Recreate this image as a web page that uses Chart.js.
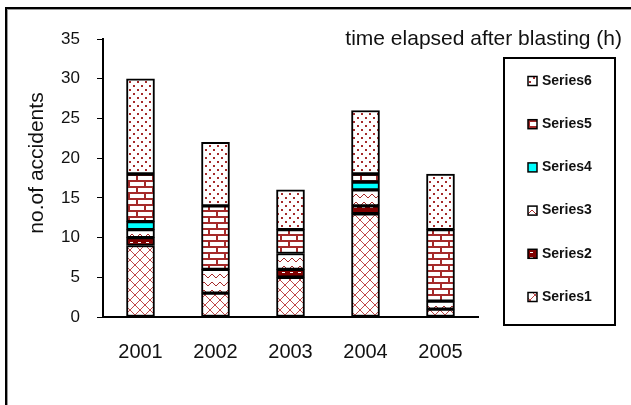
<!DOCTYPE html>
<html>
<head>
<meta charset="utf-8">
<script src="https://cdn.jsdelivr.net/npm/chart.js@4"></script>
<style>
  html, body { margin: 0; padding: 0; background: #fff; }
  #wrap { width: 631px; height: 405px; }
</style>
</head>
<body>
<div id="wrap"><canvas id="myChart" width="631" height="405"></canvas></div>
<script>
// data //
const years = ['2001', '2002', '2003', '2004', '2005'];
const series1 = [9, 3, 5, 13, 1];
const series2 = [1, 0, 1, 1, 0];
const series3 = [1, 3, 2, 2, 1];
const series4 = [1, 0, 0, 1, 0];
const series5 = [6, 8, 3, 1, 9];
const series6 = [12, 8, 5, 8, 7];
const yTicks = [0, 5, 10, 15, 20, 25, 30, 35];

const titleText = 'time elapsed after blasting (h)';
const yTitle = 'no.of accidents';

// patterns //
const red = '#a52a2a';

function makePattern(w, h, draw) {
    const c = document.createElement('canvas');
    c.width = w;
    c.height = h;
    const g = c.getContext('2d');
    g.fillStyle = '#fff';
    g.fillRect(0, 0, w, h);
    draw(g);
    return g.createPattern(c, 'repeat');
}

const pCross = makePattern(10, 10, g => {
    g.strokeStyle = '#c04848';
    g.lineWidth = 1;
    g.beginPath();
    g.moveTo(0, 0); g.lineTo(10, 10);
    g.moveTo(10, 0); g.lineTo(0, 10);
    g.stroke();
});

const pDark = makePattern(8, 5, g => {
    g.fillStyle = '#800000';
    g.fillRect(0, 0, 8, 5);
    g.fillStyle = '#fff';
    g.fillRect(2, 2, 3, 1);
});

const pZig = makePattern(8, 8, g => {
    g.strokeStyle = red;
    g.lineWidth = 1;
    g.beginPath();
    g.moveTo(0, 6); g.lineTo(4, 2); g.lineTo(8, 6);
    g.stroke();
});

const pBrick = makePattern(16, 12, g => {
    g.fillStyle = red;
    g.fillRect(0, 0, 16, 2);
    g.fillRect(0, 6, 16, 2);
    g.fillRect(0, 0, 2, 6);
    g.fillRect(8, 6, 2, 6);
});

const pDots = makePattern(8, 8, g => {
    g.fillStyle = red;
    g.fillRect(1, 1, 2, 2);
    g.fillRect(5, 5, 2, 2);
});

const datasets = [
    { label: 'Series1', data: series1, backgroundColor: pCross },
    { label: 'Series2', data: series2, backgroundColor: pDark },
    { label: 'Series3', data: series3, backgroundColor: pZig },
    { label: 'Series4', data: series4, backgroundColor: '#00ffff' },
    { label: 'Series5', data: series5, backgroundColor: pBrick },
    { label: 'Series6', data: series6, backgroundColor: pDots }
].map(d => Object.assign(d, {
    borderColor: '#000',
    borderWidth: 2,
    borderSkipped: false,
    barThickness: 28
}));

// frame, titles and legend box //
const extras = {
    id: 'extras',
    afterDraw(chart) {
        const c = chart.ctx;
        c.save();

        // outer frame (left + top only are visible)
        c.fillStyle = '#000';
        c.fillRect(5, 7, 2, 398);
        c.fillRect(5, 7, 626, 2);
        c.fillStyle = '#999';
        c.fillRect(7, 9, 1, 396);
        c.fillRect(7, 9, 624, 1);

        c.fillStyle = '#111';
        c.font = '21px "Liberation Sans"';
        c.textAlign = 'right';
        c.textBaseline = 'middle';
        c.fillText(titleText, 622, 39);

        c.save();
        c.translate(37, 163);
        c.rotate(-Math.PI / 2);
        c.textAlign = 'center';
        c.font = '21px "Liberation Sans"';
        c.fillText(yTitle, 0, 0);
        c.restore();

        // legend
        c.strokeStyle = '#000';
        c.lineWidth = 2;
        c.strokeRect(504, 58, 111, 267);

        c.font = 'bold 14px "Liberation Sans"';
        c.textAlign = 'left';
        const items = chart.data.datasets.slice().reverse();
        items.forEach((ds, i) => {
            const y = 81 + i * 43.2;
            c.fillStyle = ds.backgroundColor;
            c.fillRect(528, y - 4.5, 9, 9);
            c.lineWidth = 1.5;
            c.strokeRect(528, y - 4.5, 9, 9);
            c.fillStyle = '#111';
            c.fillText(ds.label, 542, y);
        });

        c.restore();
    }
};

const ctx = document.getElementById('myChart');

new Chart(ctx, {
    type: 'bar',
    data: {
        labels: years,
        datasets: datasets
    },
    options: {
        responsive: false,
        animation: false,
        layout: {
            padding: { top: 39, right: 153, left: 0, bottom: 0 }
        },
        plugins: {
            legend: { display: false },
            tooltip: { enabled: false }
        },
        scales: {
            x: {
                stacked: true,
                grid: { display: false },
                border: { display: true, color: '#000', width: 2 },
                ticks: {
                    color: '#111',
                    padding: 15,
                    font: { family: 'Liberation Sans', size: 20 }
                },
                afterFit(scale) { scale.height = 88; }
            },
            y: {
                stacked: true,
                min: yTicks[0],
                max: yTicks[yTicks.length - 1],
                grid: {
                    drawOnChartArea: false,
                    drawTicks: true,
                    tickLength: 6,
                    color: '#000'
                },
                border: { display: true, color: '#000', width: 2 },
                ticks: {
                    stepSize: yTicks[1] - yTicks[0],
                    color: '#111',
                    padding: 17,
                    font: { family: 'Liberation Sans', size: 17 }
                },
                afterFit(scale) { scale.width = 103; }
            }
        }
    },
    plugins: [extras]
});
</script>
</body>
</html>
